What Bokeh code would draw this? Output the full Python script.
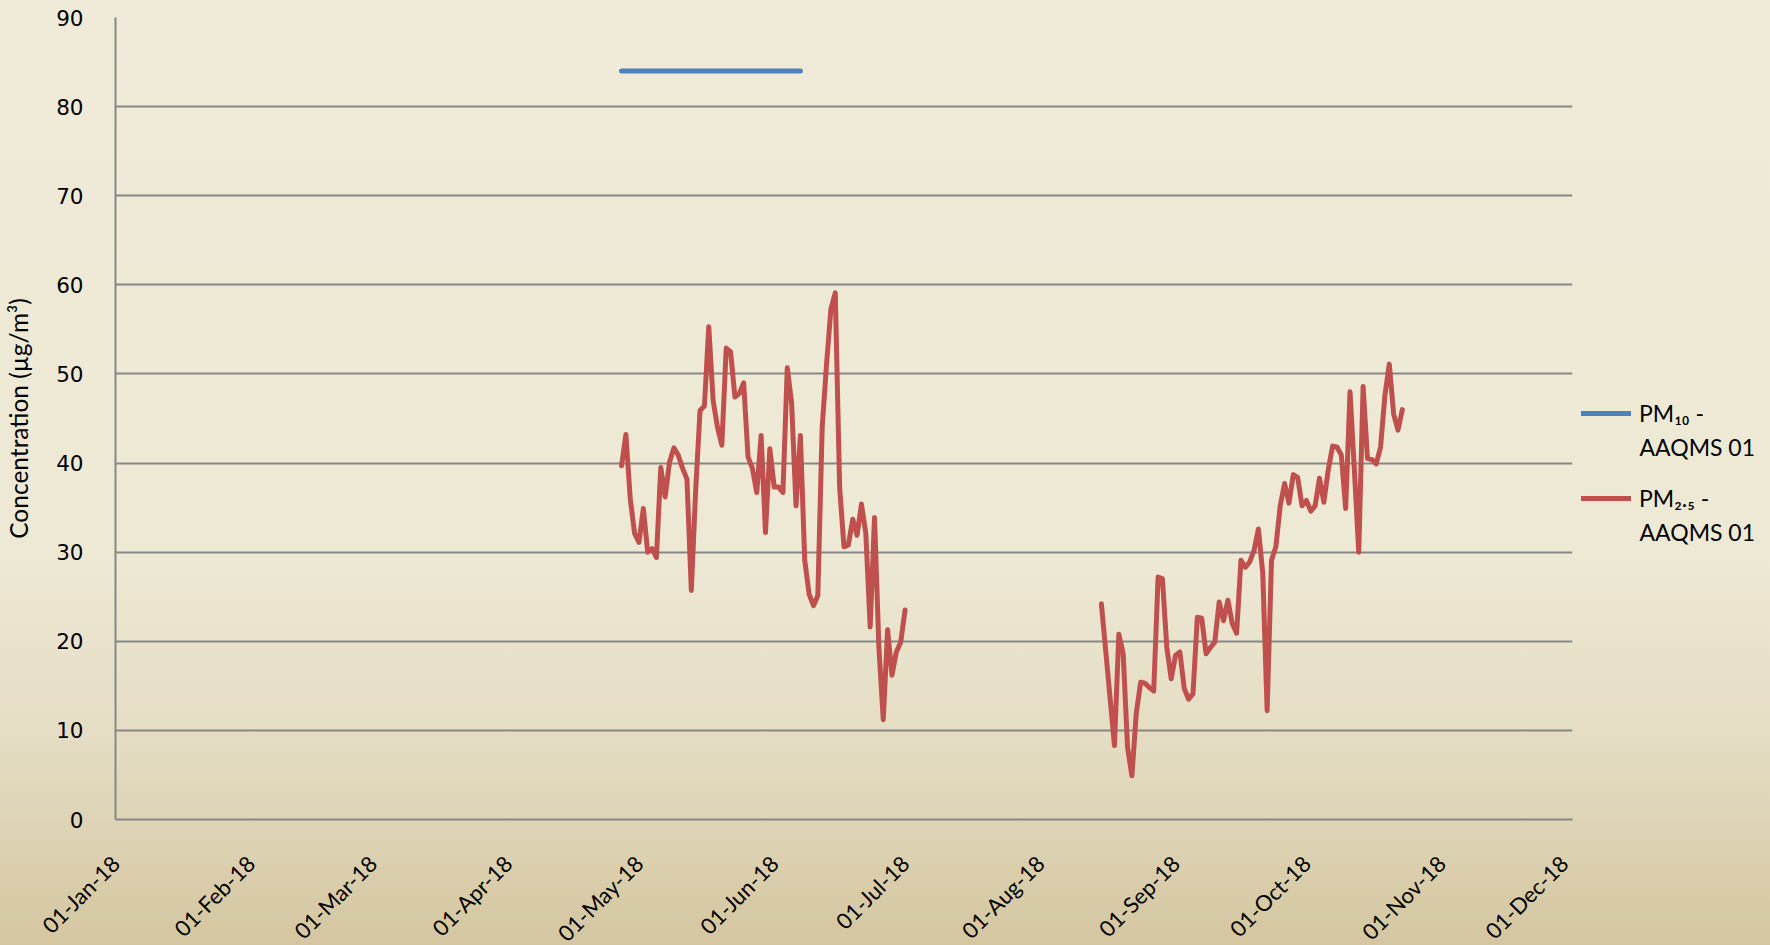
import numpy as np
import pandas as pd
from bokeh.plotting import figure
from bokeh.layouts import row
from bokeh.core.properties import value
from bokeh.models import (Range1d, FixedTicker, DatetimeTickFormatter, Legend,
                          LegendItem, ColumnDataSource)
from bokeh.embed import file_html
from bokeh.resources import INLINE

# ---------------- data ----------------
y_ticks = [0, 10, 20, 30, 40, 50, 60, 70, 80, 90]
x_tick_dates = ["2018-01-01", "2018-02-01", "2018-03-01", "2018-04-01", "2018-05-01",
                "2018-06-01", "2018-07-01", "2018-08-01", "2018-09-01", "2018-10-01",
                "2018-11-01", "2018-12-01"]

pm10_label = ["PM\u2081\u2080 -", "AAQMS 01"]
pm10_dates = ["2018-04-27", "2018-06-07"]
pm10_values = [84.0, 84.0]

pm25_label = ["PM\u2082.\u2085 -", "AAQMS 01"]
pm25_a_start = "2018-04-27"
pm25_a_values = [39.7, 43.2, 36.0, 32.1, 31.1, 34.9, 30.0, 30.4, 29.4, 39.5,
                 36.2, 40.1, 41.7, 40.9, 39.4, 38.2, 25.7, 37.0, 45.9, 46.4,
                 55.3, 47.0, 44.0, 42.0, 52.9, 52.5, 47.4, 47.8, 49.0, 40.7,
                 39.4, 36.7, 43.1, 32.2, 41.6, 37.3, 37.3, 36.7, 50.7, 46.7,
                 35.2, 43.1, 29.1, 25.3, 24.0, 25.1, 44.0, 51.1, 57.3, 59.1,
                 37.3, 30.6, 30.8, 33.7, 31.9, 35.4, 32.1, 21.6, 33.9, 19.3,
                 11.2, 21.3, 16.2, 18.8, 19.9, 23.5]

pm25_b_first_date = "2018-08-15"
pm25_b_start = "2018-08-18"
pm25_b_values = [24.2,
                 8.3, 20.8, 18.6, 8.1, 4.9, 11.9, 15.4, 15.3, 14.8, 14.4,
                 27.2, 27.0, 19.3, 15.8, 18.4, 18.8, 14.7, 13.5, 14.1, 22.7,
                 22.6, 18.6, 19.3, 19.9, 24.4, 22.3, 24.6, 22.0, 20.9, 29.1,
                 28.3, 28.9, 30.2, 32.6, 27.6, 12.2, 29.1, 30.6, 35.2, 37.7,
                 35.5, 38.7, 38.4, 35.2, 35.8, 34.6, 35.2, 38.3, 35.6, 39.2,
                 41.9, 41.8, 40.9, 34.9, 48.0, 39.2, 30.0, 48.6, 40.5, 40.4,
                 39.9, 41.8, 47.6, 51.1, 45.5, 43.7, 46.0]

PM10_COLOR = "#4F81BD"
PM25_COLOR = "#C0504D"
H = 960
GRADIENT = ("linear-gradient(to bottom, #F0EBD8 0%, #EEE9D5 58%, #E4DCC2 78%, "
            "#D4C6A0 98.4%, #D4C6A0 100%)")

# ---------------- build series ----------------
def to_ms(d):
    return pd.Timestamp(d).value // 10**6

pm25_a_dates = list(pd.date_range(pm25_a_start, periods=len(pm25_a_values)))
pm25_b_dates = [pd.Timestamp(pm25_b_first_date)] + list(
    pd.date_range(pm25_b_start, periods=len(pm25_b_values) - 1))

pm25_x = [to_ms(d) for d in pm25_a_dates] + [to_ms("2018-07-20")] + [to_ms(d) for d in pm25_b_dates]
pm25_y = list(pm25_a_values) + [np.nan] + list(pm25_b_values)

src25 = ColumnDataSource(dict(x=pm25_x, y=pm25_y))
src10 = ColumnDataSource(dict(x=[to_ms(d) for d in pm10_dates], y=pm10_values))

# ---------------- main figure ----------------
p = figure(width=1573, height=H, x_axis_type="datetime",
           x_range=Range1d(to_ms(x_tick_dates[0]), to_ms(x_tick_dates[-1])),
           y_range=Range1d(0, 90),
           output_backend="svg", toolbar_location=None,
           min_border_left=115, min_border_right=1,
           min_border_top=17, min_border_bottom=H - 819)

p.background_fill_color = None
p.border_fill_color = None
p.outline_line_color = None
p.styles = {"background": GRADIENT}

p.xgrid.grid_line_color = None
p.ygrid.ticker = FixedTicker(ticks=y_ticks)
p.ygrid.grid_line_color = "#878787"
p.ygrid.grid_line_width = 2

p.yaxis.ticker = FixedTicker(ticks=y_ticks)
p.yaxis.axis_line_color = "#878787"
p.yaxis.axis_line_width = 2
p.yaxis.major_tick_line_color = None
p.yaxis.minor_tick_line_color = None
p.yaxis.major_label_text_font = "DejaVu Sans"
p.yaxis.major_label_text_font_size = "21.5px"
p.yaxis.major_label_text_color = "#000000"
p.yaxis.major_label_standoff = 26
p.yaxis.axis_label = "Concentration (\u00b5g/m\u00b3)"
p.yaxis.axis_label_text_font = "Lato"
p.yaxis.axis_label_text_font_style = "normal"
p.yaxis.axis_label_text_font_size = "24.5px"
p.yaxis.axis_label_text_color = "#000000"
p.yaxis.axis_label_standoff = 20

p.xaxis.ticker = FixedTicker(ticks=[to_ms(d) for d in x_tick_dates])
fmt = "%d-%b-%y"
p.xaxis.formatter = DatetimeTickFormatter(milliseconds=fmt, seconds=fmt, minsec=fmt,
                                          minutes=fmt, hourmin=fmt, hours=fmt, days=fmt,
                                          months=fmt, years=fmt)
p.xaxis.axis_line_color = "#878787"
p.xaxis.axis_line_width = 2
p.xaxis.major_tick_line_color = None
p.xaxis.minor_tick_line_color = None
p.xaxis.major_label_orientation = np.pi / 4
p.xaxis.major_label_text_font = "Lato"
p.xaxis.major_label_text_font_style = "normal"
p.xaxis.major_label_text_font_size = "22px"
p.xaxis.major_label_text_color = "#000000"
p.xaxis.major_label_standoff = 34

p.line("x", "y", source=src10, line_color=PM10_COLOR, line_width=5,
       line_cap="round", line_join="round")
p.line("x", "y", source=src25, line_color=PM25_COLOR, line_width=5,
       line_cap="round", line_join="round")

# ---------------- legend panel (frame aligned with the main plot) ----------------
q = figure(width=197, height=H, x_range=Range1d(0, 197), y_range=Range1d(819, 17),
           output_backend="svg", toolbar_location=None,
           x_axis_location=None, y_axis_location=None,
           min_border_left=0, min_border_right=0, min_border_top=17,
           min_border_bottom=H - 819)
q.background_fill_color = None
q.border_fill_color = None
q.outline_line_color = None
q.grid.grid_line_color = None
q.styles = {"background": GRADIENT}

l10 = q.line(x=[-30, -20], y=[500, 500], line_color=PM10_COLOR, line_width=5,
             line_cap="round")
l25 = q.line(x=[-30, -20], y=[500, 500], line_color=PM25_COLOR, line_width=5,
             line_cap="round")

legend = Legend(items=[LegendItem(label=pm10_label[0], renderers=[l10]),
                       LegendItem(label=pm25_label[0], renderers=[l25])],
                location=(8, 307))
legend.background_fill_alpha = 0
legend.border_line_color = None
legend.padding = 0
legend.margin = 0
legend.spacing = 57
legend.glyph_width = 50
legend.glyph_height = 20
legend.label_height = 28
legend.label_standoff = 8
legend.label_text_font = "Lato"
legend.label_text_font_size = "23px"
legend.label_text_color = "#000000"
q.add_layout(legend, "center")

q.text(x=[66, 66], y=[446, 531], text=[pm10_label[1], pm25_label[1]],
       text_font=value("Lato"), text_font_size="23px", text_color="#000000",
       text_baseline="middle", text_align="left")

layout = row(p, q)
layout.styles = {"background": GRADIENT}
open("out.html", "w").write(file_html(layout, INLINE))
